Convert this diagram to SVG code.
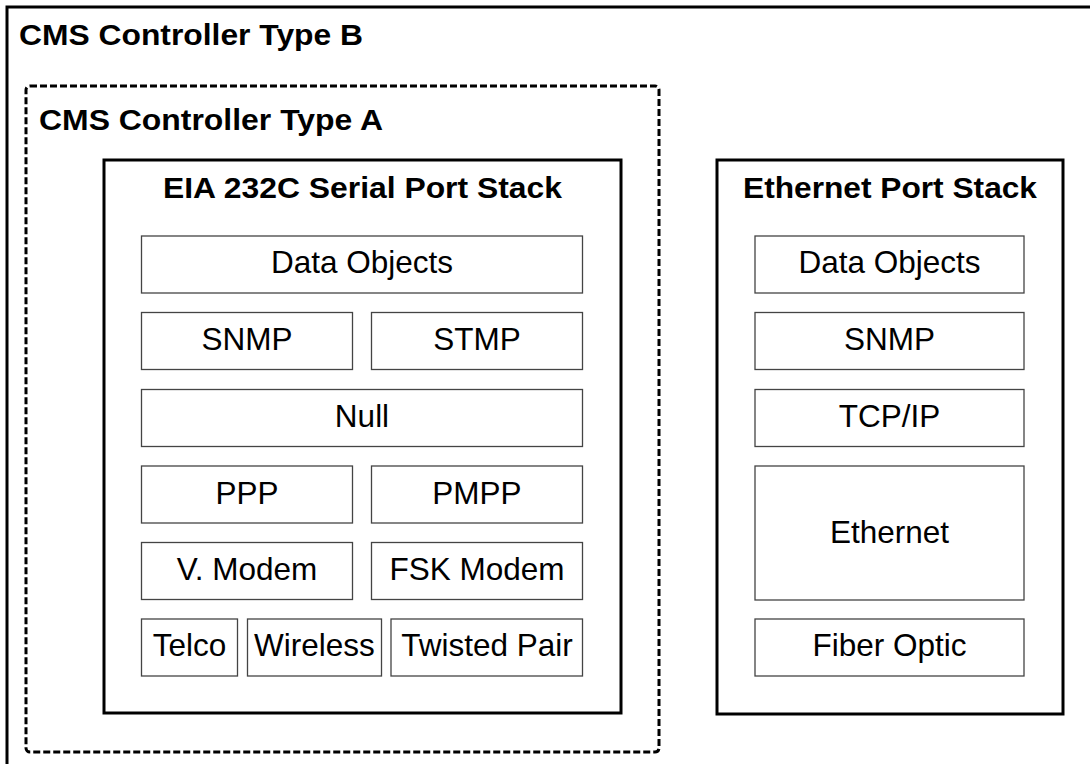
<svg xmlns="http://www.w3.org/2000/svg" width="1090" height="764" viewBox="0 0 1090 764">
<style>
.bg{fill:#ffffff}
.outer{fill:none;stroke:#000;stroke-width:3}
.dash{fill:none;stroke:#000;stroke-width:3;stroke-dasharray:7 3}
.stack{fill:#fff;stroke:#000;stroke-width:3}
.layer{fill:#fff;stroke:#444;stroke-width:1.3}
.title{font-family:"Liberation Sans",Arial,sans-serif;font-weight:bold;font-size:29px;fill:#000}
.lbl{font-family:"Liberation Sans",Arial,sans-serif;font-size:31.5px;fill:#000;text-anchor:middle}
</style>
<rect class="bg" x="0" y="0" width="1090" height="764"/>
<g id="controller-b">
<rect class="outer" x="7" y="7" width="1100" height="800"/>
<text class="title" x="19" y="45" textLength="344" lengthAdjust="spacingAndGlyphs">CMS Controller Type B</text>
</g>
<g id="controller-a">
<rect class="dash" x="26" y="86" width="633" height="666" rx="4"/>
<text class="title" x="39" y="130" textLength="344" lengthAdjust="spacingAndGlyphs">CMS Controller Type A</text>
</g>
<g id="serial-stack">
<rect class="stack" x="104" y="160" width="517" height="553"/>
<text class="title" x="163" y="198" textLength="399" lengthAdjust="spacingAndGlyphs">EIA 232C Serial Port Stack</text>
</g>
<g id="serial-data-objects"><rect class="layer" x="141.5" y="236" width="441" height="57"/><text class="lbl" x="362" y="273">Data Objects</text></g>
<g id="serial-snmp"><rect class="layer" x="141.5" y="312.5" width="211" height="57"/><text class="lbl" x="247" y="350">SNMP</text></g>
<g id="serial-stmp"><rect class="layer" x="371.5" y="312.5" width="211" height="57"/><text class="lbl" x="477" y="350">STMP</text></g>
<g id="serial-null"><rect class="layer" x="141.5" y="389.5" width="441" height="57"/><text class="lbl" x="362" y="427">Null</text></g>
<g id="serial-ppp"><rect class="layer" x="141.5" y="466" width="211" height="57"/><text class="lbl" x="247" y="503.5">PPP</text></g>
<g id="serial-pmpp"><rect class="layer" x="371.5" y="466" width="211" height="57"/><text class="lbl" x="477" y="503.5">PMPP</text></g>
<g id="serial-vmodem"><rect class="layer" x="141.5" y="542.5" width="211" height="57"/><text class="lbl" x="247" y="580">V. Modem</text></g>
<g id="serial-fskmodem"><rect class="layer" x="371.5" y="542.5" width="211" height="57"/><text class="lbl" x="477" y="580">FSK Modem</text></g>
<g id="serial-telco"><rect class="layer" x="141.5" y="619" width="96" height="57"/><text class="lbl" x="189.5" y="656">Telco</text></g>
<g id="serial-wireless"><rect class="layer" x="247.5" y="619" width="134" height="57"/><text class="lbl" x="314.5" y="656">Wireless</text></g>
<g id="serial-twisted-pair"><rect class="layer" x="391" y="619" width="191.5" height="57"/><text class="lbl" x="487" y="656">Twisted Pair</text></g>
<g id="ethernet-stack">
<rect class="stack" x="717" y="160" width="346" height="554"/>
<text class="title" x="743" y="198" textLength="294" lengthAdjust="spacingAndGlyphs">Ethernet Port Stack</text>
</g>
<g id="eth-data-objects"><rect class="layer" x="755" y="236" width="269" height="57"/><text class="lbl" x="889.5" y="273">Data Objects</text></g>
<g id="eth-snmp"><rect class="layer" x="755" y="312.5" width="269" height="57"/><text class="lbl" x="889.5" y="350">SNMP</text></g>
<g id="eth-tcpip"><rect class="layer" x="755" y="389.5" width="269" height="57"/><text class="lbl" x="889.5" y="427">TCP/IP</text></g>
<g id="eth-ethernet"><rect class="layer" x="755" y="466" width="269" height="134"/><text class="lbl" x="889.5" y="543">Ethernet</text></g>
<g id="eth-fiber-optic"><rect class="layer" x="755" y="619" width="269" height="57"/><text class="lbl" x="889.5" y="656">Fiber Optic</text></g>
<g id="connectors"></g>
</svg>
